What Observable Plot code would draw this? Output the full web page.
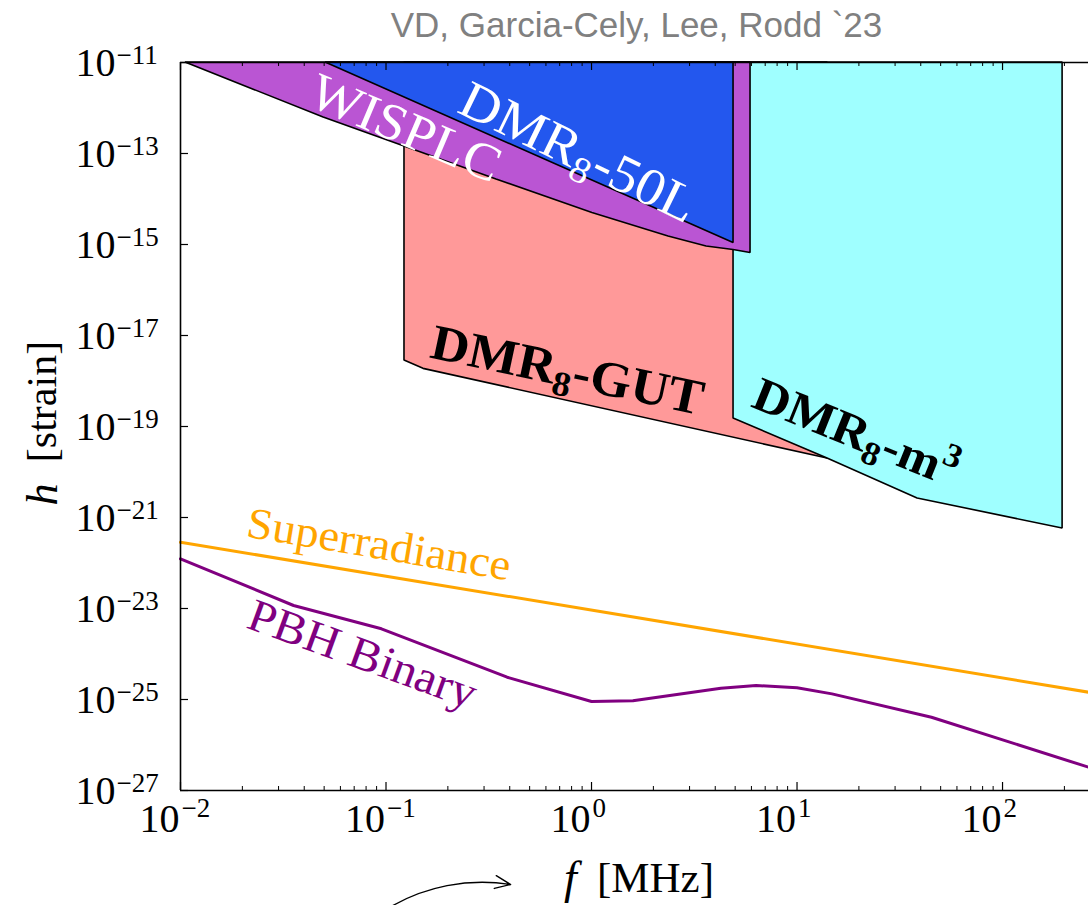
<!DOCTYPE html>
<html>
<head>
<meta charset="utf-8">
<script src="https://cdn.jsdelivr.net/npm/d3@7"></script>
<script src="https://cdn.jsdelivr.net/npm/@observablehq/plot@0.6"></script>
<style>
  html, body { margin: 0; padding: 0; background: #fff; }
  #chart svg { display: block; }
</style>
</head>
<body>
<div id="chart"></div>
<script>
// ---------- data (f in MHz, h strain) ----------
const wisplcF = [0.01057, 0.0497, 0.123, 0.345, 1.01, 2.37, 3.63, 4.91, 5.94];
const wisplcH = [1e-11, 6.18e-13, 1.43e-13, 2.69e-14, 4.92e-15, 1.50e-15, 9.04e-16, 7.57e-16, 6.50e-16];

const dmr50F = [0.0508, 4.91];
const dmr50H = [1e-11, 1.08e-15];

const gutF = [0.123, 0.1522, 14.07];
const gutH = [2.82e-18, 1.85e-18, 1.98e-20];

const m3F = [4.91, 14.07, 38.6, 196];
const m3H = [1.50e-19, 1.98e-20, 2.62e-21, 5.73e-22];

const superF = [0.01, 262];
const superH = [2.86e-22, 1.445e-25];

const pbhF = [0.01, 0.0355, 0.095, 0.3885, 1.0, 1.59, 4.26, 6.32, 10.0, 14.8, 45.1, 262];
const pbhH = [1.236e-22, 1.164e-23, 3.58e-24, 3.09e-25, 9.04e-26, 9.36e-26, 1.77e-25, 2.03e-25, 1.81e-25, 1.33e-25, 4.08e-26, 3.25e-27];

const topH = 1e-11;

const xTickExp = [-2, -1, 0, 1, 2];
const yTickExp = [-11, -13, -15, -17, -19, -21, -23, -25, -27];
const minorMult = [2, 3, 4, 5, 6, 7, 8, 9];

const titleText = "VD, Garcia-Cely, Lee, Rodd `23";

// region / curve labels ("_x" subscript, "^x" superscript)
const labelText  = ["WISPLC", "DMR_8-50L", "DMR_8-GUT", "DMR_8-m^3", "Superradiance", "PBH Binary"];
const labelF     = [0.1244, 0.864, 0.764, 19.26, 0.0924, 0.0768];
const labelH     = [3.54e-13, 1.05e-13, 1.70e-18, 7.38e-20, 2.55e-22, 9.75e-25];
const labelAngle = [23, 26, 12, 22, 9.5, 20];
const labelColor = ["white", "white", "black", "black", "#FFA500", "#800080"];
const labelSize  = [52, 53, 50, 48, 44, 46];
const labelBold  = [false, false, true, true, false, false];

// annotation arrow (bottom)
const arrowSpec = [{f1: 0.102, h1: 2.55e-30, f2: 0.404, h2: 8.6e-30}];

// ---------- build tables ----------
const toRows = (F, H) => F.map((f, i) => ({f, h: H[i]}));
const wisplc = toRows(wisplcF, wisplcH);
const dmr50 = toRows(dmr50F, dmr50H);
const gut = toRows(gutF, gutH);
const m3 = toRows(m3F, m3H);
const superr = toRows(superF, superH);
const pbh = toRows(pbhF, pbhH);
const labels = labelText.map((t, i) => ({t, f: labelF[i], h: labelH[i], a: labelAngle[i], c: labelColor[i], s: labelSize[i], b: labelBold[i]}));

const majorX = xTickExp.map(e => 10 ** e);
const minorX = xTickExp.flatMap(e => minorMult.map(m => m * 10 ** e)).filter(v => v < 262);
const majorY = yTickExp.map(e => 10 ** e);
const fmtExp = e => (e < 0 ? "\u2212" : "") + Math.abs(e);

const W = 1088, H = 905, ML = 180, MR = 0, MT = 62, MB = 115;
const FW = W - ML - MR, FH = H - MT - MB;

const serif = "Liberation Serif";
const regionStroke = {stroke: "black", strokeWidth: 1.6, strokeLinejoin: "miter"};

const labelMarks = labels.map(d => Plot.text([d], {
  x: "f", y: "h", text: "t", rotate: d.a, fill: d.c, fontSize: d.s,
  fontWeight: d.b ? "bold" : "normal", fontFamily: serif, textAnchor: "middle", lineAnchor: "middle",
  className: "lbl"
}));

const chart = Plot.plot({
  width: W,
  height: H,
  marginLeft: ML,
  marginRight: MR,
  marginTop: MT,
  marginBottom: MB,
  style: {background: "white", fontFamily: serif, overflow: "visible"},
  x: {type: "log", domain: [0.01, 262], axis: null},
  y: {type: "log", domain: [1e-27, 1e-11], axis: null},
  marks: [
    Plot.areaY(gut, {x: "f", y1: "h", y2: topH, fill: "#FF9999", ...regionStroke}),
    Plot.areaY(m3, {x: "f", y1: "h", y2: topH, fill: "#9FFFFF", ...regionStroke}),
    Plot.areaY(wisplc, {x: "f", y1: "h", y2: topH, fill: "#BA55D3", ...regionStroke}),
    Plot.areaY(dmr50, {x: "f", y1: "h", y2: topH, fill: "#2357EE", ...regionStroke}),
    Plot.line(superr, {x: "f", y: "h", stroke: "#FFA500", strokeWidth: 3}),
    Plot.line(pbh, {x: "f", y: "h", stroke: "#800080", strokeWidth: 3}),
    ...labelMarks,
    // spines
    Plot.ruleX([0.01], {stroke: "black", strokeWidth: 1.6}),
    Plot.ruleY([1e-27, 1e-11], {stroke: "black", strokeWidth: 1.6}),
    // inward ticks
    Plot.tickX(majorX, {x: d => d, insetTop: FH - 8, stroke: "black", strokeWidth: 1.2}),
    Plot.tickX(minorX, {x: d => d, insetTop: FH - 4, stroke: "black", strokeWidth: 1}),
    Plot.tickX(majorX, {x: d => d, insetBottom: FH - 8, stroke: "black", strokeWidth: 1.2}),
    Plot.tickX(minorX, {x: d => d, insetBottom: FH - 4, stroke: "black", strokeWidth: 1}),
    Plot.tickY(majorY, {y: d => d, insetRight: FW - 8, stroke: "black", strokeWidth: 1.2}),
    // tick labels 10^e
    Plot.text(xTickExp, {x: e => 10 ** e, frameAnchor: "bottom", text: () => "10", textAnchor: "end", lineAnchor: "middle", dx: -1, dy: 29, fontSize: 40, fill: "black"}),
    Plot.text(xTickExp, {x: e => 10 ** e, frameAnchor: "bottom", text: fmtExp, textAnchor: "start", lineAnchor: "middle", dx: 1, dy: 18, fontSize: 27, fill: "black"}),
    Plot.text(yTickExp, {y: e => 10 ** e, frameAnchor: "left", text: () => "10", textAnchor: "end", lineAnchor: "middle", dx: -65, dy: 1, fontSize: 40, fill: "black"}),
    Plot.text(yTickExp, {y: e => 10 ** e, frameAnchor: "left", text: fmtExp, textAnchor: "start", lineAnchor: "middle", dx: -64, dy: -7, fontSize: 27, fill: "black"}),
    // axis titles
    Plot.text(["h"], {text: d => d, frameAnchor: "left", textAnchor: "middle", lineAnchor: "middle", dx: -138, dy: 68, rotate: -90, fontSize: 44, fontStyle: "italic"}),
    Plot.text(["[strain]"], {text: d => d, frameAnchor: "left", textAnchor: "middle", lineAnchor: "middle", dx: -138, dy: -25, rotate: -90, fontSize: 42}),
    Plot.text(["f"], {text: d => d, frameAnchor: "bottom", textAnchor: "middle", lineAnchor: "middle", dx: -64, dy: 88, fontSize: 46, fontStyle: "italic"}),
    Plot.text(["[MHz]"], {text: d => d, frameAnchor: "bottom", textAnchor: "middle", lineAnchor: "middle", dx: 21, dy: 88, fontSize: 43}),
    // title
    Plot.text([titleText], {text: d => d, frameAnchor: "top", textAnchor: "middle", lineAnchor: "middle", dx: 2, dy: -37, fontFamily: "Liberation Sans", fontSize: 35, fill: "#808080"}),
    // arrow annotation
    Plot.arrow(arrowSpec, {x1: "f1", y1: "h1", x2: "f2", y2: "h2", bend: 20, headLength: 18, headAngle: 45, stroke: "black", strokeWidth: 1.4})
  ]
});

document.getElementById("chart").appendChild(chart);

// rich text: subscripts/superscripts via tspans
const NS = "http://www.w3.org/2000/svg";
chart.querySelectorAll("text").forEach(t => {
  const s = t.textContent;
  if (!/[_^]/.test(s)) return;
  const fs = parseFloat(getComputedStyle(t).fontSize) || 40;
  t.textContent = "";
  let shift = 0, run = "";
  const flush = () => {
    if (!run) return;
    const ts = document.createElementNS(NS, "tspan");
    if (shift !== 0) ts.setAttribute("dy", -shift);
    shift = 0;
    ts.textContent = run;
    t.appendChild(ts);
    run = "";
  };
  for (let i = 0; i < s.length; i++) {
    const c = s[i];
    if ((c === "_" || c === "^") && i + 1 < s.length) {
      flush();
      const d = c === "_" ? 0.2 * fs : -0.4 * fs;
      const ts = document.createElementNS(NS, "tspan");
      ts.setAttribute("dy", d - shift);
      shift = d;
      ts.setAttribute("font-size", 0.7 * fs);
      ts.textContent = s[++i];
      t.appendChild(ts);
    } else {
      run += c;
    }
  }
  flush();
});
// widen serif labels slightly (Computer Modern is wider than Times)
chart.querySelectorAll(".lbl text").forEach(t => {
  const tr = t.getAttribute("transform");
  if (tr) t.setAttribute("transform", tr + " scale(1.06,1)");
});
</script>
</body>
</html>
